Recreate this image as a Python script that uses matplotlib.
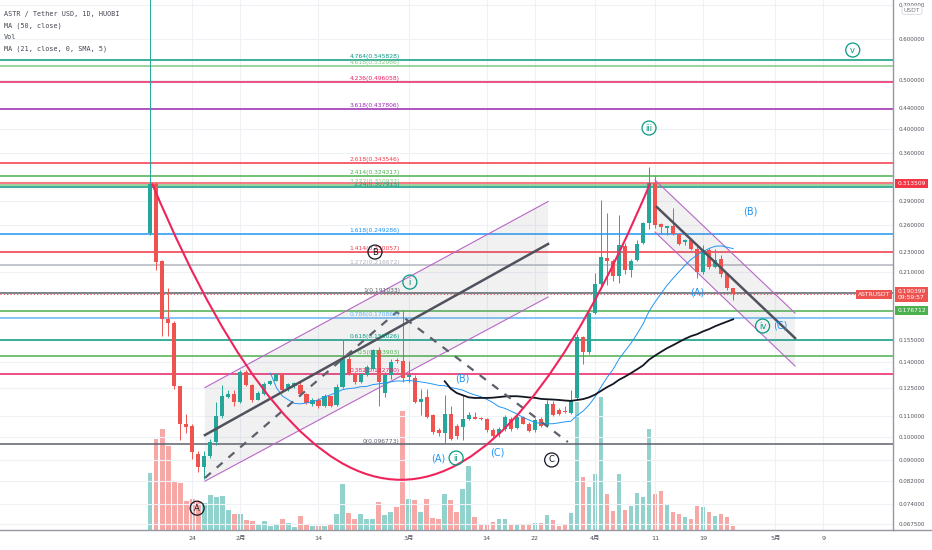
import numpy as np
import pandas as pd
import matplotlib
matplotlib.use('Agg')
import matplotlib.pyplot as plt
from matplotlib.path import Path
from matplotlib.patches import PathPatch, Polygon
from matplotlib.ticker import NullLocator, NullFormatter

plt.rcParams['font.family'] = ['DejaVu Sans', 'Noto Sans CJK SC']

# ---- daily candles ASTR/USDT (Huobi) ----
dates = pd.date_range('2022-01-17', '2022-04-24', freq='D')

opens = [0.251, 0.312, 0.221, 0.1703, 0.1674, 0.1259, 0.1063, 0.1051, 0.0925, 0.0875,
         0.0917, 0.0976, 0.1099, 0.1199, 0.1216, 0.1171, 0.1343, 0.1265, 0.1184, 0.1216,
         0.127, 0.1286, 0.132, 0.1245, 0.1258, 0.1262, 0.1214, 0.1162, 0.1181, 0.115,
         0.1201, 0.1155, 0.1251, 0.142, 0.1328, 0.128, 0.132, 0.136, 0.1481, 0.1221,
         0.1325, 0.1412, 0.1406, 0.131, 0.1306, 0.1172, 0.1199, 0.1105, 0.1032, 0.1017,
         0.111, 0.1051, 0.1048, 0.1087, 0.1096, 0.109, 0.1083, 0.1032, 0.1012, 0.1035,
         0.1087, 0.104, 0.1096, 0.1063, 0.1032, 0.1087, 0.1051, 0.1161, 0.1129, 0.1127,
         0.1116, 0.119, 0.1566, 0.1464, 0.1747, 0.1996, 0.2243, 0.221, 0.2065, 0.2367,
         0.2125, 0.2223, 0.24, 0.2624, 0.3137, 0.261, 0.257, 0.2583, 0.2499, 0.2403,
         0.2425, 0.2336, 0.2099, 0.2323, 0.2155, 0.223, 0.2082, 0.1956]
highs = [0.90, 0.316, 0.222, 0.1956, 0.169, 0.126, 0.1109, 0.106, 0.094, 0.094,
         0.0991, 0.1172, 0.1262, 0.1237, 0.1235, 0.135, 0.1352, 0.127, 0.1228, 0.128,
         0.1295, 0.1335, 0.1328, 0.1275, 0.128, 0.128, 0.122, 0.1195, 0.1195, 0.1215,
         0.1205, 0.127, 0.1551, 0.144, 0.134, 0.1335, 0.1385, 0.149, 0.150, 0.134,
         0.142, 0.1425, 0.1774, 0.141, 0.132, 0.124, 0.124, 0.111, 0.104, 0.121,
         0.115, 0.106, 0.121, 0.112, 0.112, 0.1095, 0.109, 0.104, 0.1045, 0.1105,
         0.1095, 0.1105, 0.110, 0.1068, 0.109, 0.1095, 0.118, 0.1175, 0.114, 0.115,
         0.1236, 0.159, 0.158, 0.176, 0.2098, 0.2906, 0.2744, 0.223, 0.2722, 0.240,
         0.223, 0.243, 0.264, 0.338, 0.324, 0.262, 0.259, 0.280, 0.251, 0.244,
         0.244, 0.236, 0.238, 0.234, 0.233, 0.227, 0.209, 0.196]
lows = [0.248, 0.2125, 0.158, 0.158, 0.124, 0.0986, 0.1017, 0.0907, 0.0855, 0.0827,
        0.0912, 0.0965, 0.109, 0.1195, 0.1148, 0.1165, 0.126, 0.1172, 0.118, 0.121,
        0.1265, 0.1286, 0.123, 0.123, 0.125, 0.1205, 0.116, 0.115, 0.114, 0.1145,
        0.1145, 0.115, 0.1245, 0.1325, 0.127, 0.1275, 0.1315, 0.1355, 0.1148, 0.120,
        0.130, 0.1395, 0.128, 0.128, 0.1165, 0.1105, 0.109, 0.1015, 0.1005, 0.0972,
        0.0985, 0.099, 0.0986, 0.108, 0.1085, 0.108, 0.1025, 0.0995, 0.100, 0.103,
        0.103, 0.1035, 0.106, 0.1025, 0.1025, 0.1045, 0.1048, 0.110, 0.1105, 0.1115,
        0.111, 0.1185, 0.1388, 0.1455, 0.174, 0.195, 0.1982, 0.202, 0.200, 0.208,
        0.206, 0.221, 0.239, 0.255, 0.256, 0.250, 0.249, 0.249, 0.238, 0.238,
        0.232, 0.2047, 0.208, 0.213, 0.214, 0.206, 0.194, 0.1856]
closes = [0.312, 0.2203, 0.170, 0.167, 0.1258, 0.1063, 0.1048, 0.0936, 0.0875, 0.0917,
          0.0976, 0.1099, 0.1203, 0.1214, 0.1171, 0.1343, 0.1265, 0.1181, 0.1221, 0.127,
          0.1286, 0.1328, 0.1236, 0.127, 0.1275, 0.1214, 0.1166, 0.1181, 0.115, 0.1201,
          0.115, 0.1255, 0.142, 0.1328, 0.128, 0.1328, 0.137, 0.1481, 0.128, 0.1325,
          0.140, 0.1408, 0.1305, 0.1325, 0.1172, 0.1189, 0.1096, 0.1024, 0.1017, 0.111,
          0.0992, 0.1007, 0.1087, 0.1105, 0.1087, 0.1085, 0.1032, 0.1007, 0.1035, 0.1094,
          0.1035, 0.1096, 0.1063, 0.103, 0.1079, 0.1051, 0.1161, 0.1105, 0.111, 0.112,
          0.1181, 0.1566, 0.1464, 0.1747, 0.1996, 0.2252, 0.2214, 0.2065, 0.2378, 0.2125,
          0.2215, 0.2389, 0.2624, 0.3137, 0.2596, 0.2575, 0.2583, 0.2499, 0.2389, 0.2425,
          0.2336, 0.2099, 0.2323, 0.2149, 0.2223, 0.2082, 0.1956, 0.1904]
# relative volume (bar heights)
volumes = [57, 91, 101, 84, 48, 47, 29, 31, 28, 27, 35, 33, 34, 20, 16,
           16, 10, 9, 5, 9, 4, 5, 11, 7, 3, 14, 6, 4, 4, 4, 5, 16, 46, 17, 11,
           16, 11, 11, 28, 15, 18, 23, 119,
           31, 30, 18, 31, 12, 11, 36, 30, 18, 41, 64, 13, 6, 6, 8, 11, 11, 5, 6, 6,
           5, 7, 7, 15, 10, 4, 5, 17, 128, 53, 43,
           56, 133, 36, 19, 56, 20, 24, 37, 33, 101, 36, 39, 26, 18, 16, 13, 11, 24,
           23, 18, 14, 16, 13, 4]

tick_dates = ['2022-01-24', '2022-02-01', '2022-02-14', '2022-03-01', '2022-03-14', '2022-03-22',
              '2022-04-01', '2022-04-11', '2022-04-19', '2022-05-01', '2022-05-09']
tick_labels = ['24', '2月', '14', '3月', '14', '22', '4月', '11', '19', '5月', '9']
price_ticks = [0.0675, 0.074, 0.082, 0.09, 0.10, 0.11, 0.125, 0.14, 0.155, 0.21, 0.23,
               0.26, 0.29, 0.36, 0.40, 0.44, 0.50, 0.60, 0.70]

# fib extension
fib_low, fib_high = 0.096773, 0.191033
fib_ratios = [0, 0.382, 0.5, 0.618, 0.786, 1, 1.272, 1.414, 1.618, 2.24, 2.272,
              2.414, 2.618, 3.618, 4.236, 4.618, 4.764]
fib_colors = ['#5d606b', '#e91e63', '#4caf50', '#089981', '#64b5f6', '#5d606b', '#b2b5be',
              '#f23645', '#2196f3', '#089981', '#81c784', '#4caf50', '#f23645', '#9c27b0',
              '#e91e63', '#81c784', '#089981']

# drawings: (day since 17 Jan, price)
up_top = [(9.1, 0.1250), (66.2, 0.2889)]
up_bot = [(9.1, 0.0820), (66.2, 0.1879)]
up_mid = [(9.1, 0.1009), (66.2, 0.2386)]
zigzag = [(9.1, 0.0832), (41.0, 0.1756), (69.5, 0.0978)]
dn_top = [(84.0, 0.3183), (107.3, 0.1748)]
dn_bot = [(84.0, 0.2518), (107.3, 0.1377)]
dn_mid = [(84.3, 0.2818), (107.3, 0.1562)]
arc_pts = [(0.3, 0.3135), (41.7, 0.0217), (83.2, 0.3137)]

wave_labels = [('A', 7.8, 0.0726, 'black'), ('B', 37.4, 0.2301, 'black'),
               ('i', 43.2, 0.2010, 'green'), ('(A)', 47.9, 0.0910, 'blue'),
               ('ii', 50.9, 0.0910, 'green'), ('(B)', 52.0, 0.1299, 'blue'),
               ('(C)', 57.8, 0.0931, 'blue'), ('C', 66.8, 0.0902, 'black'),
               ('iii', 83.0, 0.4023, 'green'), ('(A)', 91.0, 0.1922, 'blue'),
               ('(B)', 99.8, 0.2756, 'blue'), ('iv', 101.9, 0.1649, 'green'),
               ('(C)', 104.9, 0.1656, 'blue'), ('v', 116.9, 0.5716, 'green')]

hline_red = 0.313509
hline_green = 0.176712
last_price = 0.190399

# ---- figure ----
fig = plt.figure(figsize=(9.32, 5.5), dpi=100)
rect = [0, 20 / 550, 893 / 932, 530 / 550]
axv = fig.add_axes(rect)
ax = fig.add_axes(rect, sharex=axv)
ax.set_zorder(1)
ax.patch.set_visible(False)

x = np.arange(len(dates))
o = np.array(opens); h = np.array(highs); l = np.array(lows); c = np.array(closes)
up = c >= o
col = np.where(up, '#26a69a', '#ef5350')

# volume overlay
axv.bar(x, volumes, width=0.75, color=col, alpha=0.5, linewidth=0)
axv.set_ylim(0, 530)
axv.axis('off')

ax.set_yscale('log')
tick_pos = (pd.to_datetime(tick_dates) - dates[0]).days
for tp in tick_pos:
    ax.axvline(tp, color='#eef1f6', lw=0.8, zorder=0)
for pt in price_ticks:
    ax.axhline(pt, color='#eef1f6', lw=0.8, zorder=0)

# fib levels
for r, fc in zip(fib_ratios, fib_colors):
    p = fib_low + r * (fib_high - fib_low)
    ax.axhline(p, color=fc, lw=1.1, zorder=1)
    ax.annotate(f'{r:g}({p:.6f})', xy=(41.55, p), xytext=(0, 0.6), textcoords='offset points',
                ha='right', va='bottom', fontsize=4.3, color=fc, zorder=7)
ax.axhline(hline_red, color='#f7525f', lw=1.1, zorder=1)
ax.axhline(hline_green, color='#4caf50', lw=1.1, zorder=1)
ax.axhline(last_price, color='#ef5350', lw=0.8, ls=(0, (1, 2)), zorder=1)

# channels
for top, bot, mid in [(up_top, up_bot, up_mid), (dn_top, dn_bot, dn_mid)]:
    poly = Polygon([top[0], top[1], bot[1], bot[0]], closed=True, fc='#787b86',
                   alpha=0.1, ec='none', zorder=1.5)
    ax.add_patch(poly)
    for ln in (top, bot):
        ax.plot([ln[0][0], ln[1][0]], [ln[0][1], ln[1][1]], color='#b867c6', lw=0.8, zorder=2)
    ax.plot([mid[0][0], mid[1][0]], [mid[0][1], mid[1][1]], color='#50535e', lw=1.8, zorder=5)
ax.plot([p[0] for p in zigzag], [p[1] for p in zigzag], color='#5d606b', lw=1.6,
        ls=(0, (3.5, 3.5)), zorder=5)

# candles
ax.vlines(x, l, h, colors=col, lw=0.7, zorder=3)
body_lo = np.minimum(o, c)
body_hi = np.maximum(np.maximum(o, c), body_lo * 1.004)
ax.bar(x, body_hi - body_lo, bottom=body_lo, width=0.68, color=col, linewidth=0, zorder=4)

# moving averages
cs = pd.Series(closes)
ax.plot(x, cs.rolling(21).mean(), color='#2196f3', lw=0.7, zorder=4.5)
ax.plot(x, cs.rolling(50).mean(), color='#131722', lw=1.3, zorder=4.5)

# arc
arc = Path(arc_pts, [Path.MOVETO, Path.CURVE3, Path.CURVE3])
ax.add_patch(PathPatch(arc, fill=False, ec='#f0245c', lw=1.5, zorder=5))

# wave labels
for txt, d, p, kind in wave_labels:
    if kind == 'blue':
        ax.text(d, p, txt, ha='center', va='center', fontsize=7, color='#2196f3', zorder=8)
    else:
        cc = '#131722' if kind == 'black' else '#089981'
        ax.text(d, p, txt, ha='center', va='center', fontsize=6, color=cc, zorder=8,
                bbox=dict(boxstyle='circle,pad=0.3', fc='none', ec=cc, lw=0.9))

# axes styling
ax.set_xlim(-25.0, 123.6)
ax.set_ylim(0.0658, 0.7161)
ax.yaxis.tick_right()
ax.yaxis.set_minor_locator(NullLocator())
ax.yaxis.set_minor_formatter(NullFormatter())
ax.set_yticks(price_ticks)
ax.set_yticklabels([f'{t:.6f}' for t in price_ticks])
ax.set_xticks(tick_pos)
ax.set_xticklabels(tick_labels)
ax.tick_params(axis='y', length=0, pad=4, labelsize=4.1, labelcolor='#50535e')
ax.tick_params(axis='x', length=0, pad=4, labelsize=4.6, labelcolor='#50535e')
for s in ['top', 'left']:
    ax.spines[s].set_visible(False)
for s in ['right', 'bottom']:
    ax.spines[s].set_color('#9598a1')
    ax.spines[s].set_linewidth(1.0)
fig.add_artist(plt.Line2D([893 / 932, 1], [20 / 550, 20 / 550], color='#9598a1', lw=1.0))

# price tags on the axis
def axis_tag(price, text, color):
    ax.annotate(text, xy=(1, price), xycoords=('axes fraction', 'data'), xytext=(3, 0),
                textcoords='offset points', ha='left', va='center', fontsize=4.3,
                color='white', linespacing=1.2, annotation_clip=False, zorder=10,
                bbox=dict(boxstyle='square,pad=0.35', fc=color, ec='none'))

axis_tag(hline_red, f'{hline_red:.6f}', '#f23645')
axis_tag(last_price, f'{last_price:.6f}\n09:59:57', '#ef5350')
axis_tag(hline_green, f'{hline_green:.6f}', '#4caf50')
ax.annotate('ASTRUSDT', xy=(1, last_price), xycoords=('axes fraction', 'data'), xytext=(-2, 0),
            textcoords='offset points', ha='right', va='center', fontsize=4.3, color='white',
            annotation_clip=False, zorder=10,
            bbox=dict(boxstyle='square,pad=0.35', fc='#ef5350', ec='none'))
fig.text(912 / 932, 1 - 10 / 550, 'USDT', ha='center', va='center', fontsize=4.3,
         color='#787b86', bbox=dict(boxstyle='round,pad=0.3', fc='white', ec='#d1d4dc', lw=0.6))

# legend
legend_lines = ['ASTR / Tether USD, 1D, HUOBI', 'MA (50, close)', 'Vol', 'MA (21, close, 0, SMA, 5)']
for i, t in enumerate(legend_lines):
    ax.text(4 / 893, 1 - (14 + 11.7 * i) / 530, t, transform=ax.transAxes, ha='left',
            va='center', fontsize=4.9, family='DejaVu Sans Mono', color='#434651', zorder=9)

fig.savefig('out.png', dpi=100, facecolor='white')
